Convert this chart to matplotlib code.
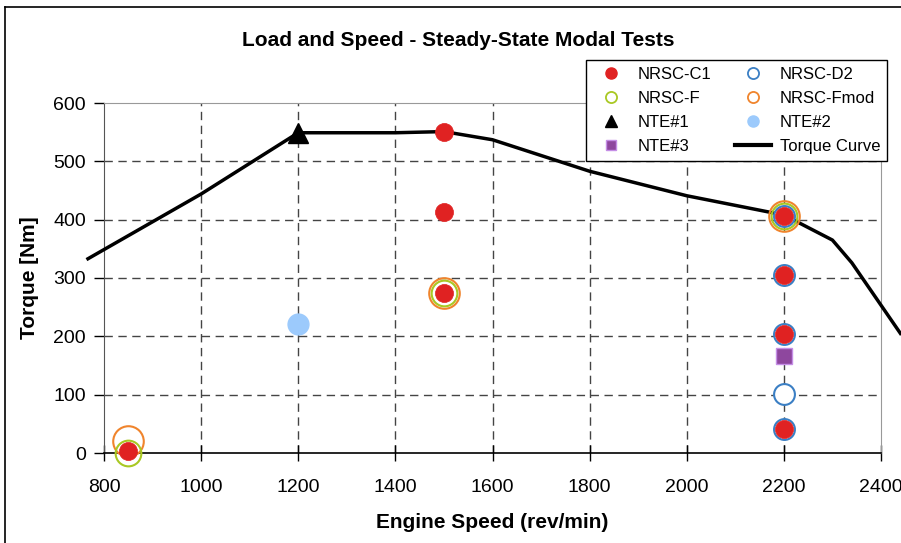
import matplotlib
matplotlib.use('Agg')
import matplotlib.pyplot as plt
from matplotlib.lines import Line2D

# Full-load torque curve (rev/min, Nm)
curve_speed = [767, 1000, 1200, 1400, 1500, 1600, 1800, 2000, 2200, 2300, 2340, 2440]
curve_torque = [333, 444, 549, 549, 551, 537, 483, 441, 408, 365, 326, 205]

# Modal test points
c1_speed = [850, 1500, 1500, 1500, 2200, 2200, 2200, 2200]
c1_torque = [3, 551, 413, 275, 406, 305, 204, 42]
d2_speed = [2200, 2200, 2200, 2200, 2200]
d2_torque = [406, 305, 204, 102, 42]
f_speed = [850, 1500, 2200]
f_torque = [0, 275, 406]
fmod_speed = [850, 1500, 2200]
fmod_torque = [20, 275, 406]
nte1_speed, nte1_torque = [1200], [549]
nte2_speed, nte2_torque = [1200], [221]
nte3_speed, nte3_torque = [2200], [166]

xticks = [800, 1000, 1200, 1400, 1600, 1800, 2000, 2200, 2400]
yticks = [0, 100, 200, 300, 400, 500, 600]

RED = '#e02222'
BLUE = '#3b7fc4'
GREEN = '#a9c823'
ORANGE = '#f0842c'
LIGHTBLUE = '#9ccafc'
PURPLE = '#8e479e'

plt.rcParams['font.family'] = ['Liberation Sans', 'DejaVu Sans']

fig = plt.figure(figsize=(9.01, 5.43), dpi=100)
ax = fig.add_axes([104 / 901, 1 - 453 / 543, 777 / 901, 350 / 543])
ax.set_xlim(800, 2400)
ax.set_ylim(0, 600)

for x in xticks[1:-1]:
    ax.axvline(x, color='#444444', lw=1.0, ls=(0, (6, 4)), zorder=1)
for y in yticks[1:-1]:
    ax.axhline(y, color='#444444', lw=1.0, ls=(0, (6, 4)), zorder=1)

ax.plot(curve_speed, curve_torque, color='black', lw=2.5, zorder=3, clip_on=False)

ax.plot(fmod_speed, fmod_torque, 'o', ms=22, mfc='none', mec=ORANGE, mew=1.5, zorder=4, clip_on=False)
ax.plot(f_speed, f_torque, 'o', ms=18.5, mfc='none', mec=GREEN, mew=1.5, zorder=5, clip_on=False)
ax.plot(d2_speed, d2_torque, 'o', ms=15, mfc='white', mec=BLUE, mew=1.5, zorder=6, clip_on=False)
ax.plot(c1_speed, c1_torque, 'o', ms=13, mfc=RED, mec=RED, mew=0.5, zorder=7, clip_on=False)
ax.plot(nte1_speed, nte1_torque, '^', ms=14, color='black', zorder=8)
ax.plot(nte2_speed, nte2_torque, 'o', ms=15, mfc=LIGHTBLUE, mec=LIGHTBLUE, zorder=8)
ax.plot(nte3_speed, nte3_torque, 's', ms=12, mfc=PURPLE, mec='#c58ee6', mew=1.0, zorder=8)

ax.set_xticks(xticks)
ax.set_yticks(yticks)
ax.tick_params(axis='x', direction='inout', length=12, width=1, labelsize=14, pad=13)
ax.tick_params(axis='y', direction='out', length=7, width=1, labelsize=14, pad=6)
for s in ['top', 'right']:
    ax.spines[s].set_color('#999999')
ax.spines['left'].set_color('#555555')
ax.spines['bottom'].set_color('black')
ax.spines['bottom'].set_linewidth(1.2)

ax.set_xlabel('Engine Speed (rev/min)', fontsize=15, fontweight='bold', labelpad=12)
ax.set_ylabel('Torque [Nm]', fontsize=15, fontweight='bold', labelpad=10)
fig.text(458 / 901, 1 - 40 / 543, 'Load and Speed - Steady-State Modal Tests',
         ha='center', va='center', fontsize=15, fontweight='bold',
         family=['Liberation Sans Narrow', 'Liberation Sans', 'DejaVu Sans'])

handles = [
    Line2D([], [], ls='none', marker='o', ms=8, mfc=RED, mec=RED),
    Line2D([], [], ls='none', marker='o', ms=8, mfc='none', mec=GREEN, mew=1.3),
    Line2D([], [], ls='none', marker='^', ms=9, color='black'),
    Line2D([], [], ls='none', marker='s', ms=7, mfc=PURPLE, mec='#c58ee6'),
    Line2D([], [], ls='none', marker='o', ms=8, mfc='none', mec=BLUE, mew=1.3),
    Line2D([], [], ls='none', marker='o', ms=8, mfc='none', mec=ORANGE, mew=1.3),
    Line2D([], [], ls='none', marker='o', ms=8, mfc=LIGHTBLUE, mec=LIGHTBLUE),
    Line2D([], [], color='black', lw=3),
]
labels = ['NRSC-C1', 'NRSC-F', 'NTE#1', 'NTE#3',
          'NRSC-D2', 'NRSC-Fmod', 'NTE#2', 'Torque Curve']
leg = fig.legend(handles, labels, ncol=2, loc='upper left',
                 bbox_to_anchor=(586 / 901, 1 - 60 / 543), borderaxespad=0,
                 fontsize=12, frameon=True, fancybox=False, framealpha=1,
                 edgecolor='black', handlelength=2.2, handletextpad=0.5,
                 columnspacing=1.4, labelspacing=0.55, borderpad=0.4)
leg.get_frame().set_linewidth(1.0)
leg.set_zorder(20)

# outer chart frame
fig.add_artist(Line2D([5 / 901, 5 / 901], [0, 1 - 7 / 543], color='black', lw=1.2))
fig.add_artist(Line2D([5 / 901, 1], [1 - 7 / 543, 1 - 7 / 543], color='black', lw=1.2))

fig.savefig('out.png', dpi=100)
